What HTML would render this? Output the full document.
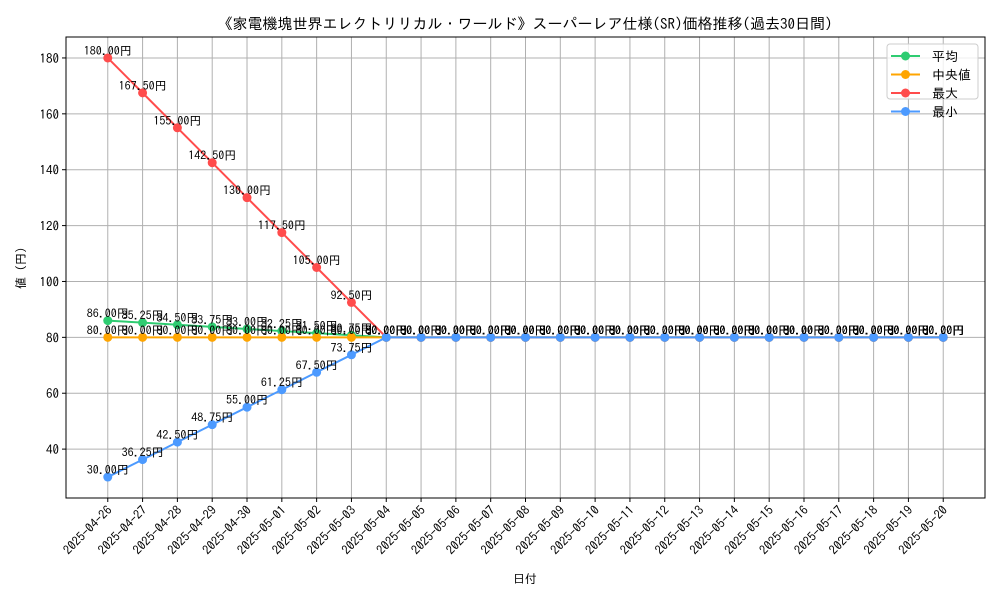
<!DOCTYPE html>
<html><head><meta charset="utf-8"><style>
body{margin:0;background:#fff}
svg text{font-family:"IPAGothic","Noto Sans CJK JP",sans-serif}
</style></head><body>
<svg id="chart" width="1000" height="600" xmlns="http://www.w3.org/2000/svg">
<rect width="1000" height="600" fill="#fff"/>
<text x="525" y="29" font-size="15" text-anchor="middle">《家電機塊世界エレクトリリカル・ワールド》スーパーレア仕様(SR)価格推移(過去30日間)</text>
<g id="grid"></g>
<g id="series"></g>
<g id="labels"></g>
<rect x="66" y="37" width="919" height="461" fill="none" stroke="#000" stroke-width="1"/>
<g id="axes"></g>
<text x="525" y="583" font-size="12" text-anchor="middle">日付</text>
<text x="0" y="0" font-size="12" text-anchor="middle" transform="translate(25,268) rotate(-90)">値 (円)</text>
<g id="legend"></g>
</svg>
<script>
const dates=["2025-04-26","2025-04-27","2025-04-28","2025-04-29","2025-04-30","2025-05-01","2025-05-02","2025-05-03","2025-05-04","2025-05-05","2025-05-06","2025-05-07","2025-05-08","2025-05-09","2025-05-10","2025-05-11","2025-05-12","2025-05-13","2025-05-14","2025-05-15","2025-05-16","2025-05-17","2025-05-18","2025-05-19","2025-05-20"];
const avgVals=[86,85.25,84.5,83.75,83,82.25,81.5,80.75,80,80,80,80,80,80,80,80,80,80,80,80,80,80,80,80,80];
const medVals=[80,80,80,80,80,80,80,80,80,80,80,80,80,80,80,80,80,80,80,80,80,80,80,80,80];
const maxVals=[180,167.5,155,142.5,130,117.5,105,92.5,80,80,80,80,80,80,80,80,80,80,80,80,80,80,80,80,80];
const minVals=[30,36.25,42.5,48.75,55,61.25,67.5,73.75,80,80,80,80,80,80,80,80,80,80,80,80,80,80,80,80,80];
const yTicks=[40,60,80,100,120,140,160,180];
const seriesNames=["平均","中央値","最大","最小"];
const seriesColors=["#2ecc71","#ffa500","#ff4c4c","#4c9aff"];
const NS="http://www.w3.org/2000/svg";
const L=66,R=985,T=37,B=498;
const n=dates.length;
const xmin=-0.05*(n-1),xmax=(n-1)*1.05;
const all=[...avgVals,...medVals,...maxVals,...minVals];
const lo=Math.min(...all),hi=Math.max(...all),pad=(hi-lo)*0.05;
const ymin=lo-pad,ymax=hi+pad;
const xs=i=>L+(i-xmin)/(xmax-xmin)*(R-L);
const ys=v=>B-(v-ymin)/(ymax-ymin)*(B-T);
function mk(tag,attrs,parent){const e=document.createElementNS(NS,tag);for(const k in attrs)e.setAttribute(k,attrs[k]);parent.appendChild(e);return e;}
const grid=document.getElementById('grid'),axes=document.getElementById('axes');
dates.forEach((d,i)=>{
 const x=xs(i);
 const g=mk('line',{x1:x,x2:x,y1:T,y2:B,stroke:'#b0b0b0','stroke-width':1},grid);
 
 const t=mk('line',{x1:x,x2:x,y1:B,y2:B+4,stroke:'#000'},axes);
 
 const tx=mk('text',{x:0,y:0,'font-size':12.5,'text-anchor':'end',transform:`translate(${x+5},${B+13}) rotate(-45)`},axes);
 tx.textContent=d;
 
});
yTicks.forEach(v=>{
 const y=ys(v);
 const g=mk('line',{x1:L,x2:R,y1:y,y2:y,stroke:'#b0b0b0','stroke-width':1},grid);
 
 const t=mk('line',{x1:L-4,x2:L,y1:y,y2:y,stroke:'#000'},axes);
 
 const tx=mk('text',{x:L-7,y:y+5,'font-size':13,'text-anchor':'end'},axes);
 tx.textContent=v;
 
});
const sg=document.getElementById('series'),lg=document.getElementById('labels');
[avgVals,medVals,maxVals,minVals].forEach((vals,s)=>{
 const c=seriesColors[s];
 const p=mk('polyline',{points:vals.map((v,i)=>xs(i)+','+ys(v)).join(' '),fill:'none',stroke:c,'stroke-width':2},sg);
 
 vals.forEach((v,i)=>{
  const m=mk('circle',{cx:xs(i),cy:ys(v),r:4.5,fill:c},sg);
  
  const t=mk('text',{x:xs(i),y:ys(v)-3,'font-size':12,'text-anchor':'middle'},lg);
  t.textContent=v.toFixed(2)+'円';
  
 });
});
const leg=document.getElementById('legend');
const lb=mk('rect',{x:887,y:44,width:91,height:55,rx:3,fill:'#fff','fill-opacity':0.8,stroke:'#ccc'},leg);

seriesNames.forEach((nm,s)=>{
 const y=56+s*18.5;
 const l=mk('line',{x1:891,x2:920,y1:y,y2:y,stroke:seriesColors[s],'stroke-width':2},leg);
 
 const c=mk('circle',{cx:905.5,cy:y,r:4.5,fill:seriesColors[s]},leg);
 
 const t=mk('text',{x:932,y:y+5,'font-size':13},leg);
 t.textContent=(s==1?' ':'')+nm;
 
});
</script>
</body></html>
